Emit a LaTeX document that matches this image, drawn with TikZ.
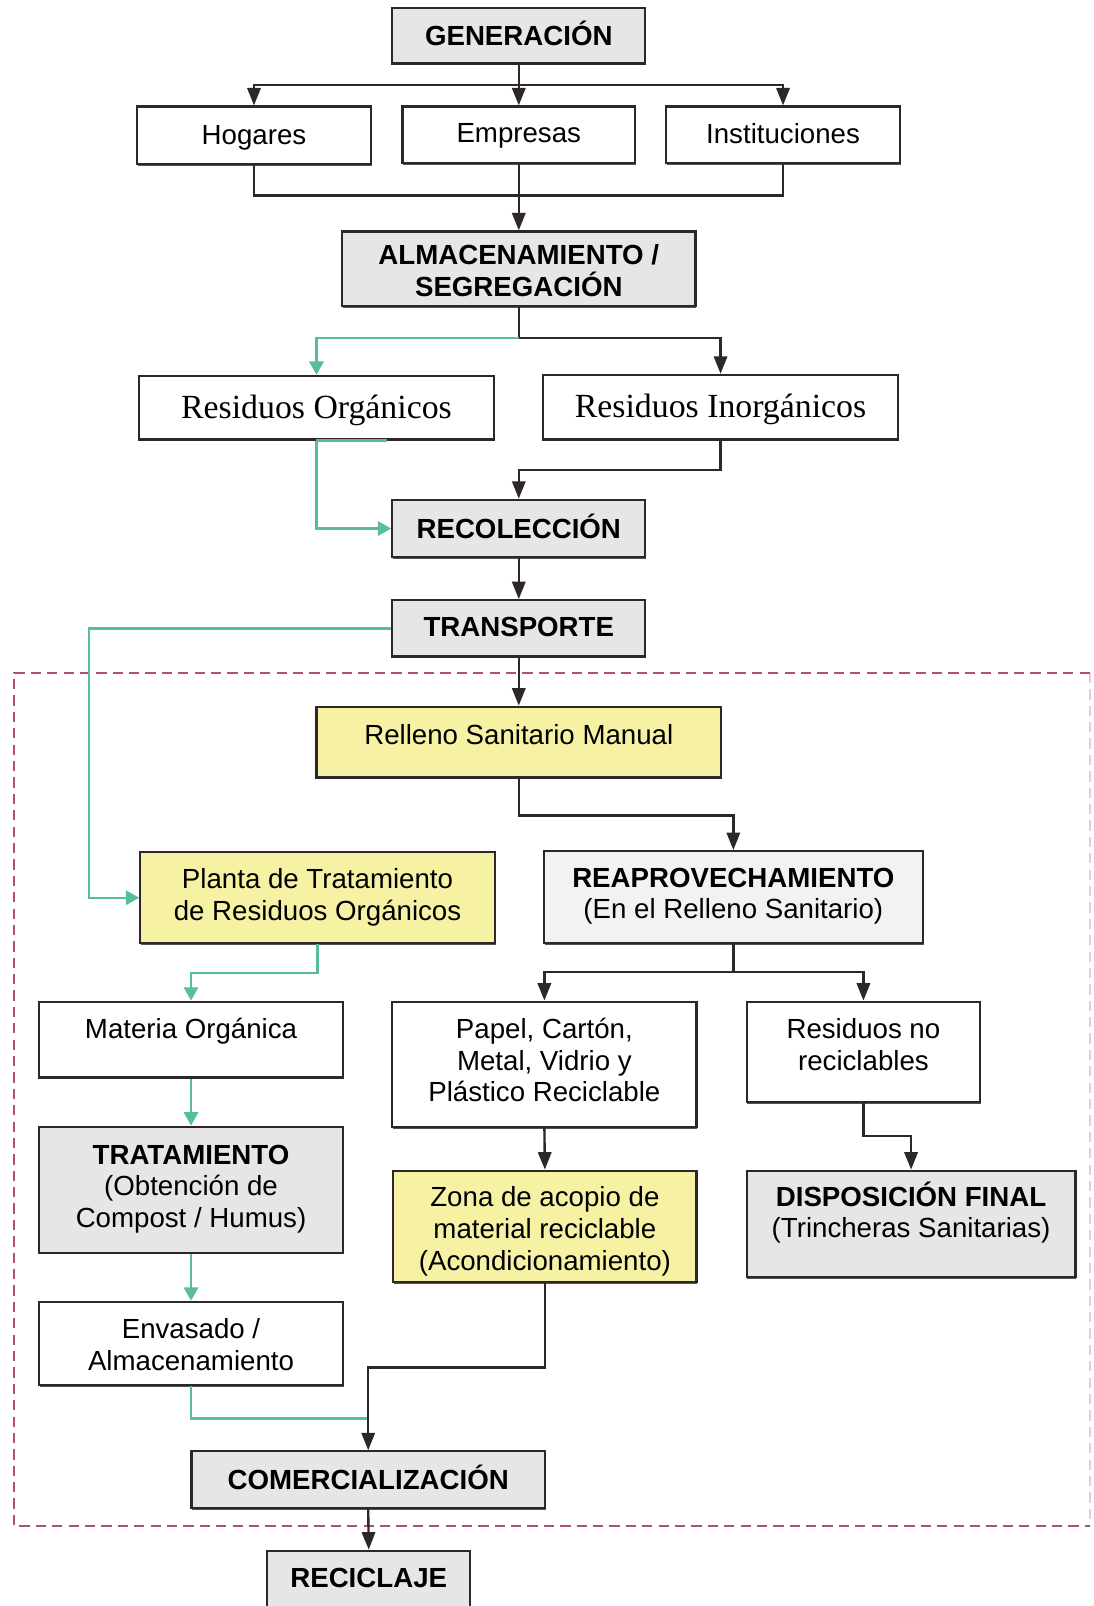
\documentclass[tikz,border=0pt]{standalone}
\usepackage{fontspec}
\setmainfont{Liberation Sans}
\newfontfamily\serifo{Liberation Serif}
\usetikzlibrary{arrows.meta,shadows}

\definecolor{ink}{RGB}{45,38,42}
\definecolor{leaf}{RGB}{88,190,150}
\definecolor{paleyel}{RGB}{246,241,163}
\definecolor{stone}{RGB}{230,230,230}
\definecolor{mist}{RGB}{242,242,242}
\definecolor{zone}{RGB}{176,80,110}

\tikzset{
  box/.style={draw=ink, line width=2.2pt, fill=white, inner sep=0pt,
    drop shadow={shadow xshift=0.8pt, shadow yshift=-1.8pt, fill=ink!80, opacity=1}},
  graybox/.style={box, fill=stone},
  lightbox/.style={box, fill=mist},
  yelbox/.style={box, fill=paleyel},
  txt/.style={align=center, inner sep=0pt, text=black, font=\fontsize{27}{31}\selectfont},
  wire/.style={draw=ink, line width=2.3pt},
  arr/.style={wire, -{Triangle[length=17pt,width=13pt]}},
  gwire/.style={draw=leaf, line width=2.2pt},
  garr/.style={gwire, -{Triangle[length=13pt,width=14pt]}},
  zonedash/.style={draw=zone, line width=1.8pt, dash pattern=on 10pt off 6pt},
}

% box from (x1,y1) to (x2,y2) with its text centred at height ty
\newcommand\caja[8]{%
  \node[#1, minimum width={(#5-#3)*1pt}, minimum height={(#6-#4)*1pt}]
    (#2) at ({(#3+#5)/2},{(#4+#6)/2}) {};
  \node[txt] (#2-t) at ({(#3+#5)/2},#7) {#8};}

\begin{document}
\begin{tikzpicture}[x=1pt,y=-1pt]
\useasboundingbox[fill=white] (0,0) rectangle (1068,1568);

% landfill area
\draw[zonedash] (1064,657) -- (14,657) -- (14,1490) -- (1064,1490);
\draw[zonedash, draw opacity=0.3] (1064,657) -- (1064,1490);

% boxes
\caja{graybox}{gen}{383}{8}{630}{62}{33}{\textbf{GENERACIÓN}}
\caja{box}{hog}{134}{104}{362}{160}{135}{Hogares}
\caja{box}{emp}{393}{104}{620}{159}{133}{Empresas}
\caja{box}{ins}{650}{104}{879}{159}{130}{Instituciones}
\caja{graybox}{alm}{334}{226}{679}{299}{264}{\textbf{ALMACENAMIENTO /}\\\textbf{SEGREGACIÓN}}
\caja{box}{rorg}{136}{367}{482}{429}{401}{\serifo\fontsize{33}{37}\selectfont Residuos Orgánicos}
\caja{box}{rinorg}{530}{366}{877}{429}{400}{\serifo\fontsize{33}{37}\selectfont Residuos Inorgánicos}
\caja{graybox}{rec}{383}{488}{630}{544}{514}{\textbf{RECOLECCIÓN}}
\caja{graybox}{tra}{383}{586}{630}{641}{612}{\textbf{TRANSPORTE}}
\caja{yelbox}{rsm}{309}{690}{704}{759}{717}{Relleno Sanitario Manual}
\caja{yelbox}{pla}{137}{832}{483}{921}{876}{Planta de Tratamiento\\de Residuos Orgánicos}
\caja{lightbox}{rea}{531}{831}{901}{921}{875}{\textbf{REAPROVECHAMIENTO}\\(En el Relleno Sanitario)}
\caja{box}{mat}{38}{978}{335}{1052}{1007}{Materia Orgánica}
\caja{box}{pap}{383}{978}{680}{1100}{1035}{Papel, Cartón,\\Metal, Vidrio y\\Plástico Reciclable}
\caja{box}{rnr}{729}{978}{957}{1076}{1020}{Residuos no\\reciclables}
\caja{graybox}{trt}{38}{1100}{335}{1223}{1161}{\textbf{TRATAMIENTO}\\(Obtención de\\Compost / Humus)}
\caja{yelbox}{zon}{384}{1143}{680}{1252}{1202}{Zona de acopio de\\material reciclable\\(Acondicionamiento)}
\caja{graybox}{dis}{729}{1143}{1050}{1247}{1184}{\textbf{DISPOSICIÓN FINAL}\\(Trincheras Sanitarias)}
\caja{box}{env}{38}{1271}{335}{1352}{1313}{Envasado /\\Almacenamiento}
\caja{graybox}{com}{187}{1417}{532}{1472}{1442}{\textbf{COMERCIALIZACIÓN}}
\caja{graybox}{recic}{261}{1514}{459}{1574}{1541}{\textbf{RECICLAJE}}

% junction points
\coordinate (j1) at (506.5,83);
\coordinate (j2) at (506.5,191);
\coordinate (j3) at (506.5,330);
\coordinate (g1) at (87,0);
\coordinate (j4) at (716,949);
\coordinate (j5) at (359.5,1335);
\coordinate (j6) at (359.5,1385);

% connectors
\draw[arr] (gen.south) -- (emp.north);
\draw[arr] (j1) -| (hog.north);
\draw[arr] (j1) -| (ins.north);
\draw[wire] (hog.south) |- (j2) -| (ins.south);
\draw[arr] (emp.south) -- (alm.north);
\draw[wire] (alm.south) -- (j3);
\draw[garr] (j3) -| (rorg.north);
\draw[arr] (j3) -| (rinorg.north);
\draw[gwire] (rorg.south) -- ++(69,0);
\draw[garr] (rorg.south) |- (rec.west);
\draw[arr] (rinorg.south) -- ++(0,29) -| (rec.north);
\draw[arr] (rec.south) -- (tra.north);
\draw[garr] (tra.west) -- (tra.west -| g1) |- (pla.west);
\draw[arr] (tra.south) -- (rsm.north);
\draw[arr] (rsm.south) -- ++(0,36) -| (rea.north);
\draw[garr] (pla.south) -- ++(0,28) -| (mat.north);
\draw[wire] (rea.south) -- (j4);
\draw[arr] (j4) -| (pap.north);
\draw[arr] (j4) -| (rnr.north);
\draw[garr] (mat.south) -- (trt.north);
\draw[arr] (pap.south) -- (zon.north);
\draw[arr] (rnr.south) -- ++(0,32) -| (dis.north);
\draw[garr] (trt.south) -- (env.north);
\draw[gwire] (env.south) |- (j6);
\draw[arr] (zon.south) |- (j5) -- (com.north);
\draw[arr] (com.south) -- (recic.north);
\end{tikzpicture}
\end{document}
